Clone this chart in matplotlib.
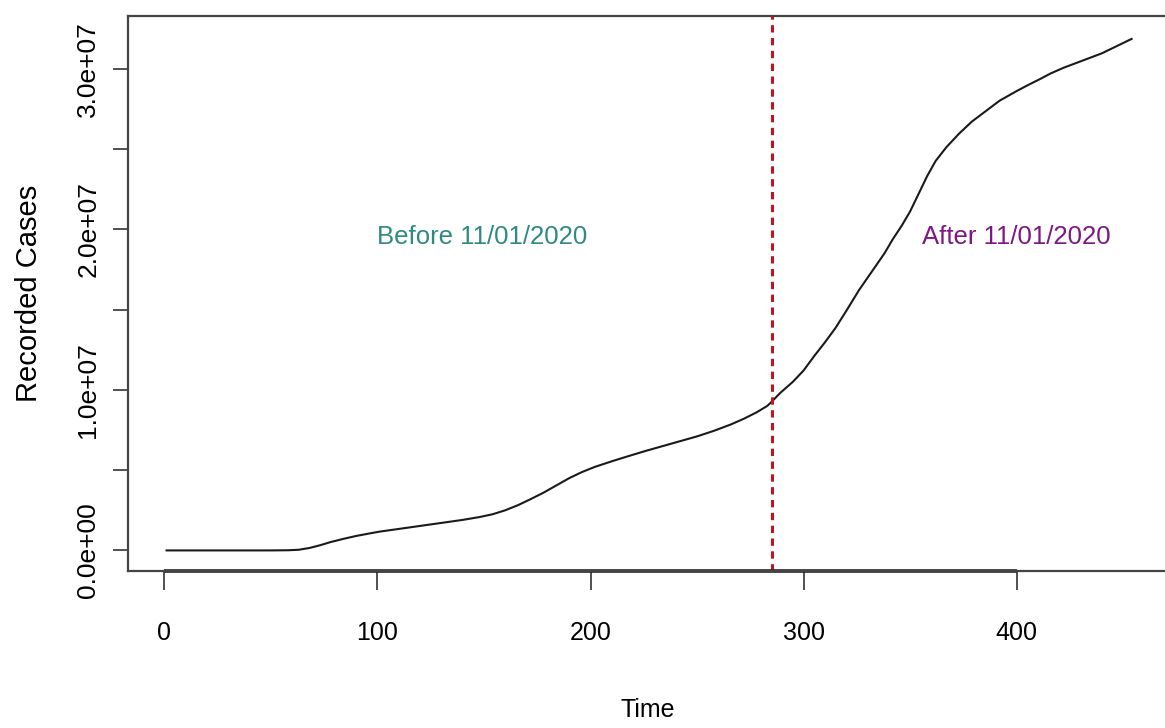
import matplotlib.pyplot as plt

# 日数(1 = 2020/01/22) と累計感染者数(百万人)
days = [1, 30, 50, 58, 63, 68, 73, 78, 84, 90, 96, 101, 108, 116, 124, 132,
        140, 148, 154, 160, 166, 172, 178, 184, 190, 196, 202, 210, 218, 226,
        234, 242, 250, 258, 266, 272, 278, 283, 285, 289, 295, 300, 305, 310,
        315, 320, 326, 332, 338, 342, 346, 350, 354, 358, 362, 367, 373, 379,
        386, 392, 400, 405, 411, 416, 422, 428, 434, 440, 447, 454]
cases_m = [0, 0, 0, 0.01, 0.04, 0.15, 0.32, 0.52, 0.72, 0.9, 1.05, 1.17, 1.3,
           1.45, 1.6, 1.75, 1.9, 2.08, 2.25, 2.5, 2.82, 3.2, 3.6, 4.05, 4.5,
           4.88, 5.2, 5.55, 5.88, 6.2, 6.5, 6.8, 7.1, 7.45, 7.85, 8.2, 8.6, 9.0,
           9.25, 9.8, 10.5, 11.2, 12.1, 12.95, 13.85, 14.9, 16.2, 17.35, 18.5,
           19.4, 20.2, 21.1, 22.2, 23.3, 24.25, 25.1, 25.95, 26.7, 27.4, 28.0,
           28.6, 28.95, 29.35, 29.7, 30.05, 30.35, 30.65, 30.95, 31.4, 31.85]
cases = [c * 1e6 for c in cases_m]

cutoff_day = 285
x_ticks = [0, 100, 200, 300, 400]
y_ticks = [0, 5e6, 1e7, 1.5e7, 2e7, 2.5e7, 3e7]
y_labels = ["0.0e+00", "", "1.0e+07", "", "2.0e+07", "", "3.0e+07"]

font = ["Liberation Sans", "DejaVu Sans"]

fig = plt.figure(figsize=(11.65, 7.28), dpi=100)
ax = fig.add_axes([0.1099, 0.2157, 0.8927, 0.7624])

ax.plot(days, cases, color="#1a1a1a", lw=1.5)
ax.axvline(cutoff_day, color="#c01420", lw=2.2, linestyle=(0, (2.4, 1.8)))

ax.text(149, 1.95e7, "Before 11/01/2020", color="#2f8a80", fontsize=18.5,
        family=font, ha="center", va="center")
ax.text(400, 1.95e7, "After 11/01/2020", color="#7d1786", fontsize=18.5,
        family=font, ha="center", va="center")

ax.set_xlim(-17.1, 471.1)
ax.set_ylim(-0.128e7, 3.328e7)

ax.set_xticks(x_ticks)
ax.set_xticklabels([str(t) for t in x_ticks], family=font, fontsize=18)
ax.set_yticks(y_ticks)
ax.set_yticklabels(y_labels, family=font, fontsize=19, rotation=90, va="center")

ax.tick_params(axis="x", length=14, width=1.2, pad=22, color="#333333")
ax.tick_params(axis="y", length=11, width=1.2, pad=9, color="#333333")

for side in ["left", "top", "bottom", "right"]:
    ax.spines[side].set_color("#444444")
    ax.spines[side].set_linewidth(1.6)

# 軸線(0〜400)を枠の上に重ねて描く
ax.plot([x_ticks[0], x_ticks[-1]], [-0.128e7, -0.128e7], color="#222222",
        lw=2.6, clip_on=False, solid_capstyle="butt")

ax.set_xlabel("Time", family=font, fontsize=18, labelpad=38)
ax.set_ylabel("Recorded Cases", family=font, fontsize=21, labelpad=24)

plt.savefig("out.png", dpi=100)
